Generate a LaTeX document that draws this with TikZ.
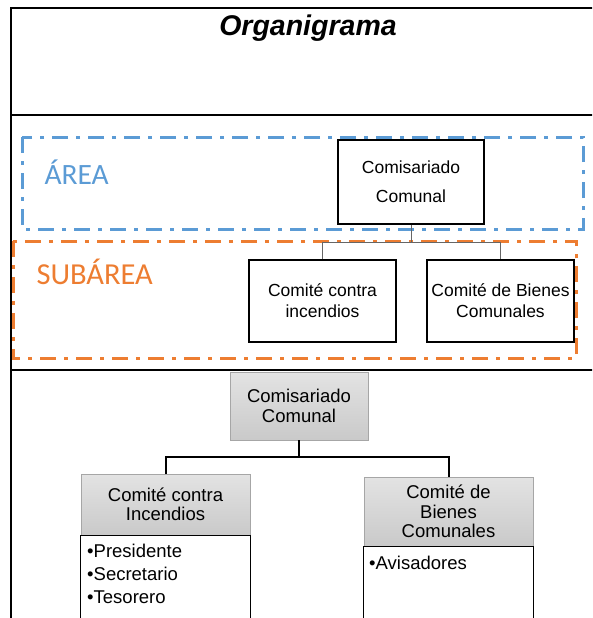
\documentclass[tikz,border=0pt]{standalone}
\usepackage{fontspec}
\setmainfont{Liberation Sans}
\newfontfamily\calfont{Carlito}
\definecolor{areablue}{HTML}{5B9BD5}
\definecolor{subor}{HTML}{ED7D31}
\begin{document}
\begin{tikzpicture}[x=1pt,y=-1pt,
  frameline/.style={line width=2pt,black},
  dashdot/.style={line width=3pt,dash pattern=on 16pt off 8pt on 4pt off 8pt},
  orgbox/.style={draw=black,line width=1.3pt,fill=white,align=center,inner sep=0pt,
     font=\fontsize{17.5}{21}\selectfont},
  graybox/.style={draw=gray!70,line width=0.8pt,top color=gray!22,bottom color=gray!42,
     align=center,inner sep=0pt,font=\fontsize{18.5}{19.5}\selectfont},
  listtext/.style={align=left,inner sep=0pt,anchor=north west,
     font=\fontsize{18.5}{23}\selectfont},
  listline/.style={draw=black,line width=1.3pt},
  thinlink/.style={draw=gray!80!black,line width=1pt},
  thicklink/.style={draw=black,line width=2pt}]
\useasboundingbox (0,0) rectangle (592,618);
\clip (0,0) rectangle (592,618);
% frame
\draw[frameline] (11,640) -- (11,8) -- (600,8);
\draw[frameline] (11,115) -- (600,115);
\draw[frameline] (11,370) -- (600,370);
\node[font=\fontsize{28.5}{30}\bfseries\itshape\selectfont] (title) at (308,28) {Organigrama};
% area rectangles
\draw[dashdot,areablue] (22,137) rectangle (583,229);
\draw[dashdot,subor] (13,241) rectangle (576,358);
\node[anchor=west,text=areablue,font=\calfont\fontsize{29.5}{30}\selectfont] (area) at (41,172) {ÁREA};
\node[anchor=west,text=subor,font=\calfont\fontsize{30.5}{30}\selectfont] (subarea) at (33,272) {SUBÁREA};
% top chart
\node[orgbox,minimum width=146pt,minimum height=84pt,font=\fontsize{17.5}{29}\selectfont] (tcc) at (411,182) {Comisariado\\Comunal};
\node[orgbox,minimum width=147pt,minimum height=82pt] (tci) at (322.5,301) {Comité contra\\incendios};
\node[orgbox,minimum width=147pt,minimum height=82pt] (tcb) at (500.5,301) {Comité de Bienes\\Comunales};
\coordinate (tj) at (411,242);
\draw[thinlink] (tcc.south) -- (tj);
\draw[thinlink] (tci.north) -- (tci.north |- tj) -- (tcb.north |- tj) -- (tcb.north);
% bottom chart
\node[graybox,minimum width=138pt,minimum height=68pt] (bcc) at (299,406) {Comisariado\\Comunal};
\node[graybox,minimum width=169pt,minimum height=61pt] (bci) at (165.5,504.5) {Comité contra\\Incendios};
\node[graybox,minimum width=169pt,minimum height=69pt] (bcb) at (448.5,511.5) {Comité de\\Bienes\\Comunales};
\draw[listline] (bci.south west) -- ++(0,120) (bci.south west) -- (bci.south east) -- ++(0,120);
\draw[listline] (bcb.south west) -- ++(0,120) (bcb.south west) -- (bcb.south east) -- ++(0,120);
\node[listtext] (l1) at (87,544) {•Presidente\\•Secretario\\•Tesorero};
\node[listtext] (l2) at (369,556) {•Avisadores};
\coordinate (bj) at (299,457);
\draw[thicklink] (bcc.south) -- (bj);
\draw[thicklink] (bci.north) -- (bci.north |- bj) -- (bcb.north |- bj) -- (bcb.north);
\end{tikzpicture}
\end{document}
